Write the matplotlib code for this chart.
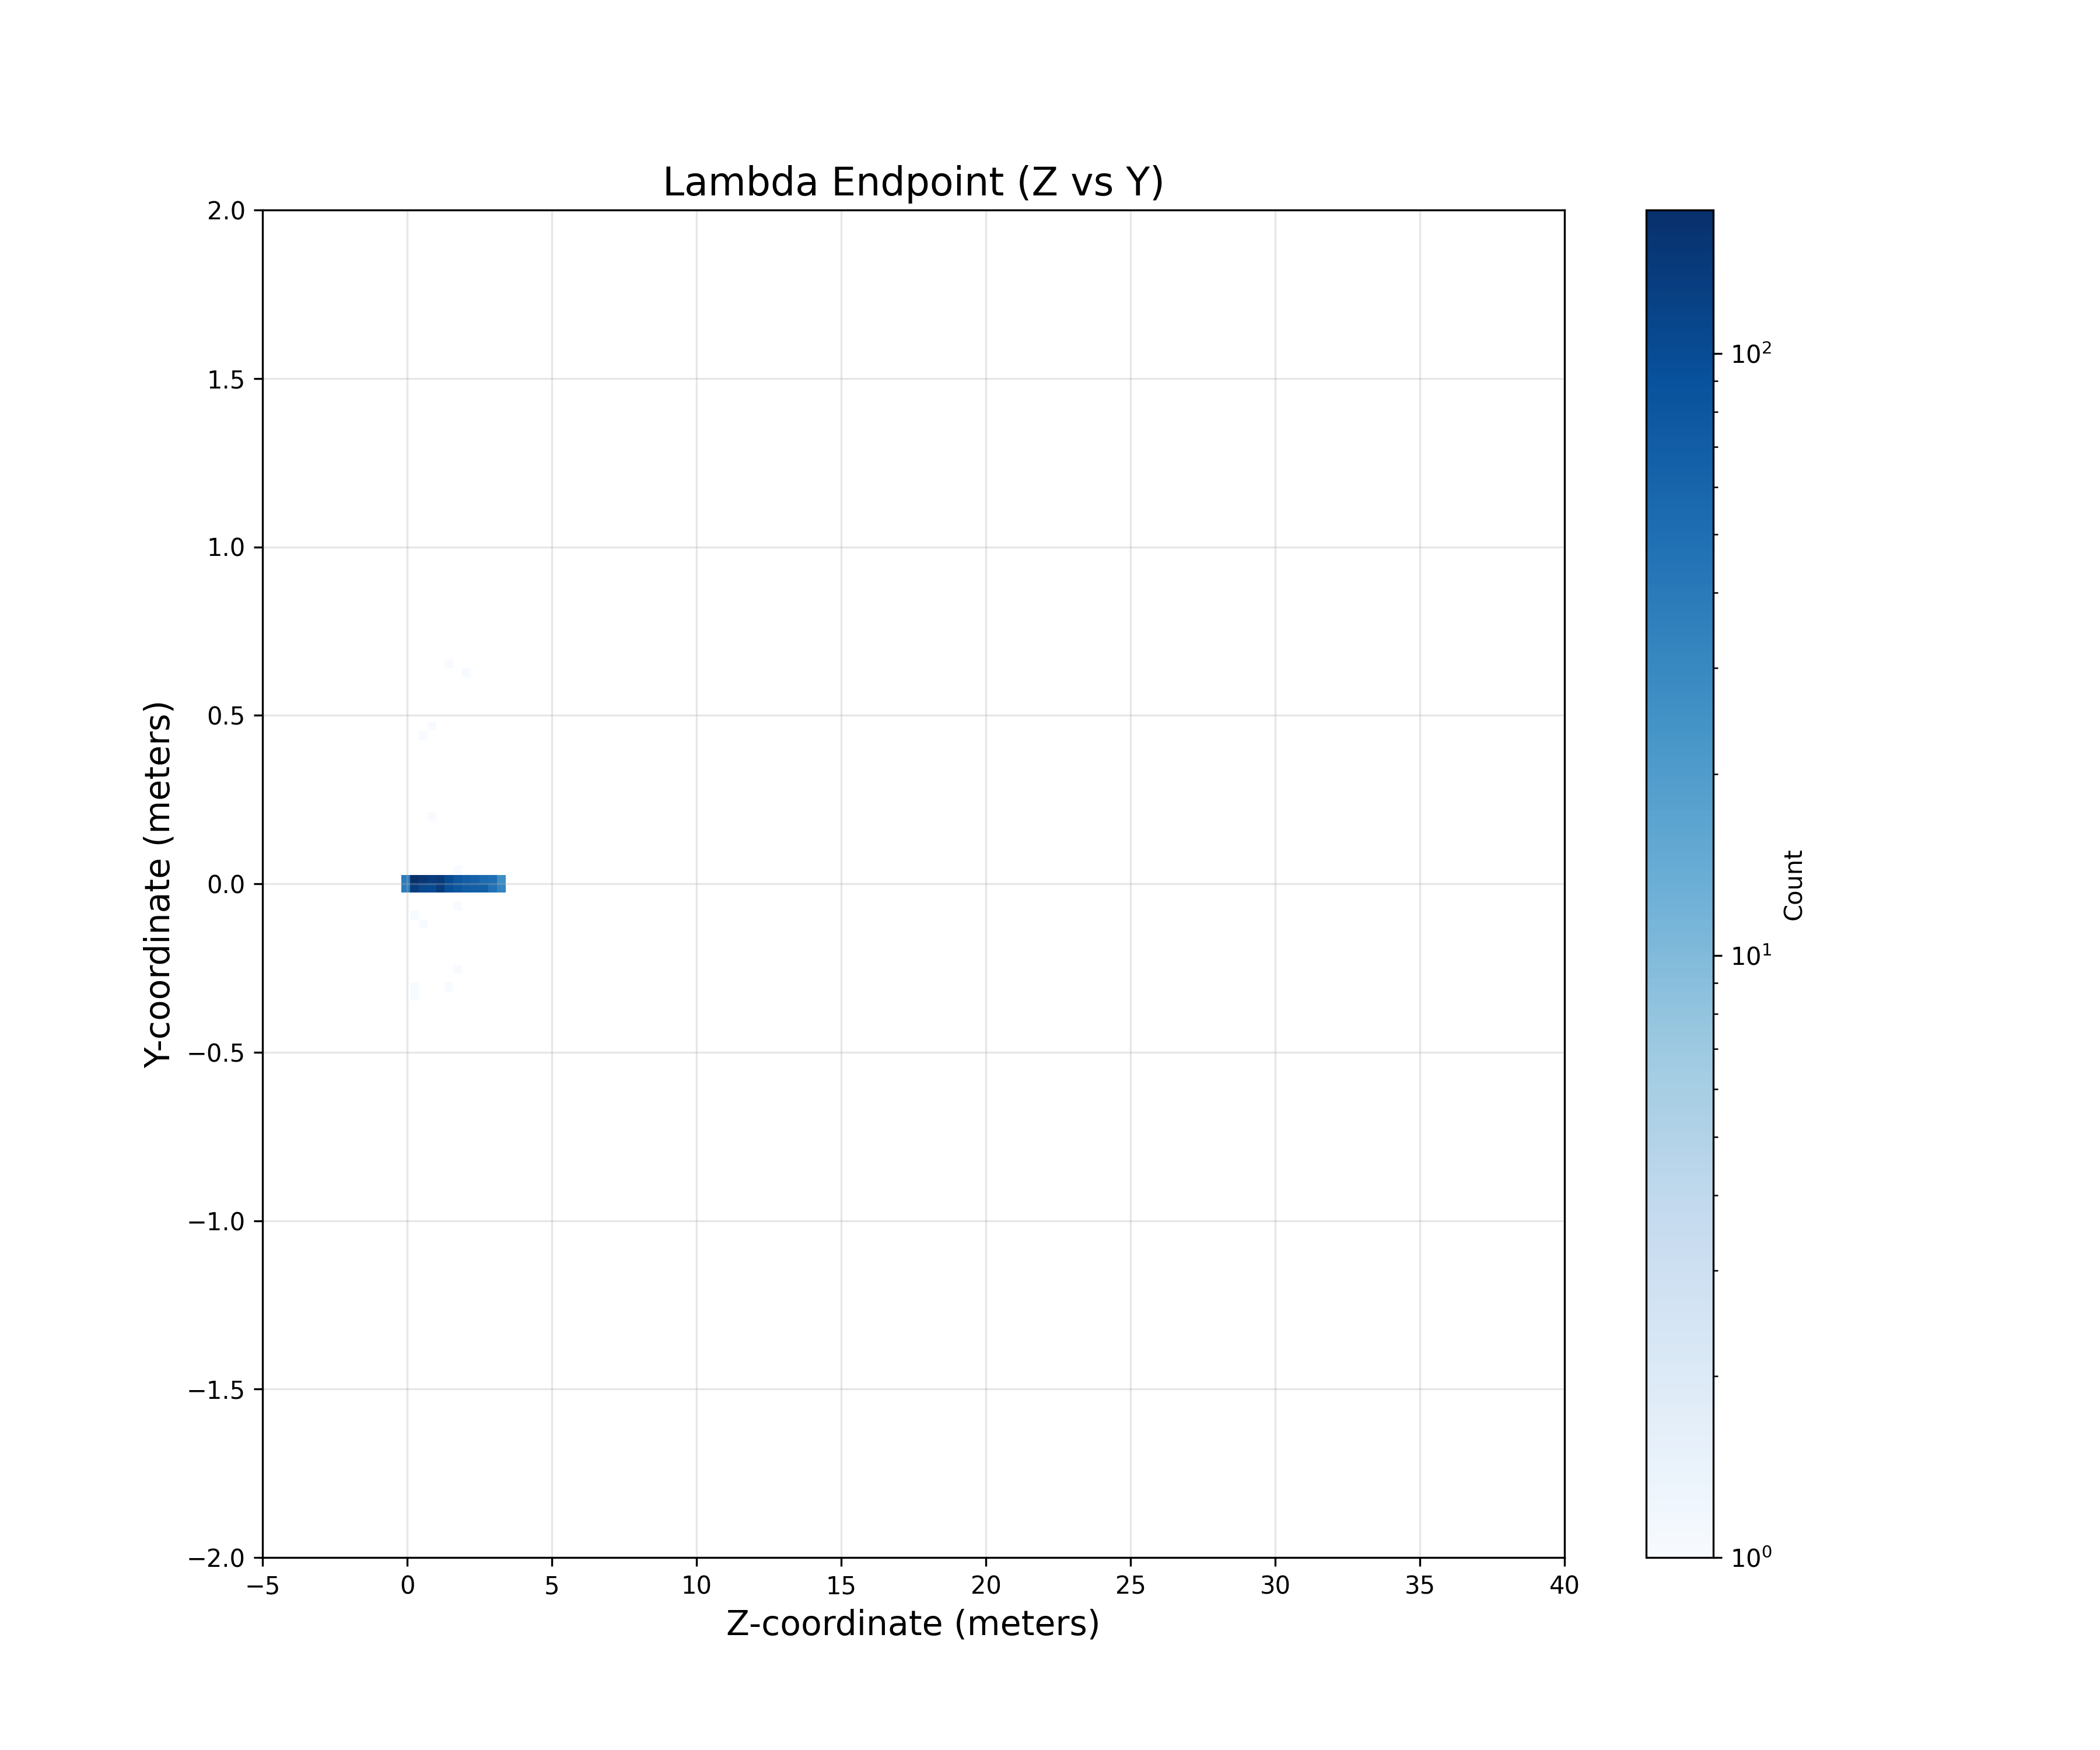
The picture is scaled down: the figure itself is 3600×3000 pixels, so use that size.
import numpy as np
import matplotlib
matplotlib.use("Agg")
import matplotlib.pyplot as plt
from matplotlib.colors import LogNorm

# 150 bins over the plotted range, counts
z_edges = np.linspace(-5, 40, 151)
y_edges = np.linspace(-2, 2, 151)

# the two dense rows just below and above y=0, z bins 16..27
dense_bins = list(range(16, 28))
row_below = [39, 134, 108, 103, 134, 93, 79, 71, 68, 68, 47, 33]
row_above = [39, 173, 155, 134, 140, 103, 79, 71, 65, 53, 50, 27]

# isolated single-count bins (z bin, y bin)
single_z = [22, 22, 17, 18, 22, 21, 17, 17, 21, 23, 19, 18, 19]
single_y = [76, 72, 71, 70, 65, 63, 63, 62, 99, 98, 92, 91, 82]

counts = np.zeros((150, 150))
counts[dense_bins, 74] = row_below
counts[dense_bins, 75] = row_above
counts[single_z, single_y] = 1

fig, ax = plt.subplots(figsize=(12, 10))
mesh = ax.pcolormesh(z_edges, y_edges, counts.T, cmap="Blues", norm=LogNorm(vmin=1, vmax=counts.max()))
cbar = fig.colorbar(mesh, ax=ax, label="Count")

ax.set_xlim(-5, 40)
ax.set_ylim(-2, 2)
ax.set_xlabel("Z-coordinate (meters)", fontsize=14)
ax.set_ylabel("Y-coordinate (meters)", fontsize=14)
ax.set_title("Lambda Endpoint (Z vs Y)", fontsize=16)
ax.grid(True, alpha=0.3)

plt.savefig("out.png", dpi=300)
